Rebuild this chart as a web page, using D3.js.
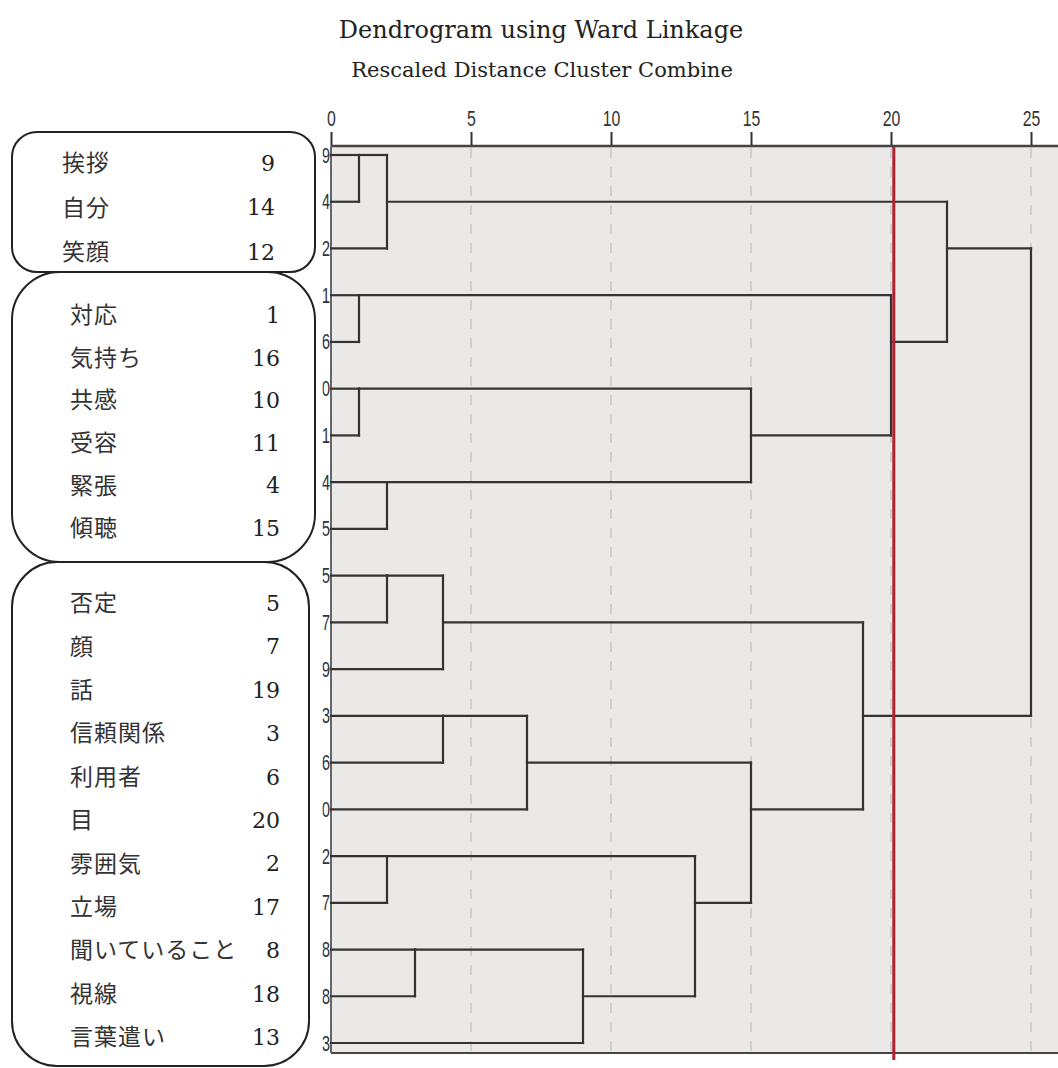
<!DOCTYPE html>
<html>
<head>
<meta charset="utf-8">
<script src="https://cdn.jsdelivr.net/npm/d3@7"></script>
<style>
  body { margin: 0; background: #fff; }
  .title { font-family: "DejaVu Serif", serif; fill: #222; }
  .tick text { font-family: "Liberation Sans", Arial, sans-serif; fill: #333; }
  .leaf { font-family: "Liberation Sans", Arial, sans-serif; fill: #333; }
  .word { font-family: "Noto Sans CJK JP", sans-serif; fill: #333; }
  .num { font-family: "DejaVu Serif", serif; fill: #222; }
</style>
</head>
<body>
<svg id="dendro"></svg>
<script>
// words in the order they appear down the dendrogram
var words = ["挨拶","自分","笑顔","対応","気持ち","共感","受容","緊張","傾聴",
             "否定","顔","話","信頼関係","利用者","目","雰囲気","立場",
             "聞いていること","視線","言葉遣い"];
// case numbers of the leaves (same order)
var caseNumbers = [9,14,12,1,16,10,11,4,15,5,7,19,3,6,20,2,17,8,18,13];
// how many words sit in each circled group
var groupSizes = [3,6,11];
// merges: [child a, child b, rescaled distance]; ids 0-19 are leaves, merge k makes id 20+k
var merges = [
  [0,1,1],[20,2,2],[3,4,1],[5,6,1],[7,8,2],[23,24,15],[22,25,20],[21,26,22],
  [9,10,2],[28,11,4],[12,13,4],[30,14,7],[15,16,2],[17,18,3],[33,19,9],
  [32,34,13],[31,35,15],[29,36,19],[27,37,25]
];
var axisTicks = [0,5,10,15,20,25];
var cutDistance = 20.1;

var screen = {width:1058, height:1068}
var svg = d3.select("#dendro")
    .attr("width", screen.width)
    .attr("height", screen.height)

var plot = {left:331, right:1058, top:146, bottom:1053}

var xScale = d3.scaleLinear()
    .domain([0,25])
    .range([331,1031])

var yScale = d3.scaleLinear()
    .domain([0,19])
    .range([155,1043])

//titles
svg.append("text")
   .attr("class","title")
   .attr("x",541).attr("y",38)
   .attr("text-anchor","middle")
   .style("font-size","24px")
   .text("Dendrogram using Ward Linkage")

svg.append("text")
   .attr("class","title")
   .attr("x",542).attr("y",77)
   .attr("text-anchor","middle")
   .style("font-size","21px")
   .text("Rescaled Distance Cluster Combine")

//plot background
svg.append("rect")
   .attr("x",plot.left).attr("y",plot.top)
   .attr("width",plot.right-plot.left)
   .attr("height",plot.bottom-plot.top)
   .attr("fill","#ebe9e7")

//dashed grid
svg.append("g")
   .selectAll("line")
   .data(axisTicks.slice(1))
   .enter()
   .append("line")
   .attr("x1",function(d){return xScale(d)})
   .attr("x2",function(d){return xScale(d)})
   .attr("y1",plot.top+2)
   .attr("y2",plot.bottom)
   .attr("stroke","#c8c8c8")
   .attr("stroke-width",1.5)
   .attr("stroke-dasharray","10,9")

//axis on top
var xAxis = d3.axisTop(xScale)
    .tickValues(axisTicks)
    .tickSize(14)
    .tickSizeOuter(0)
    .tickPadding(6)
var axisG = svg.append("g")
   .attr("transform","translate(0,"+plot.top+")")
   .call(xAxis)
axisG.select(".domain").remove()
axisG.selectAll(".tick line").attr("stroke","#333").attr("stroke-width",2)
axisG.selectAll(".tick text")
     .style("font-size","22px")
     .attr("transform","scale(0.72,1)")

svg.append("line")
   .attr("x1",plot.left).attr("x2",plot.right)
   .attr("y1",plot.top).attr("y2",plot.top)
   .attr("stroke","#444").attr("stroke-width",2.5)
svg.append("line")
   .attr("x1",plot.left).attr("x2",plot.right)
   .attr("y1",plot.bottom).attr("y2",plot.bottom)
   .attr("stroke","#444").attr("stroke-width",2)
svg.append("line")
   .attr("x1",plot.left).attr("x2",plot.left)
   .attr("y1",plot.top).attr("y2",plot.bottom)
   .attr("stroke","#666").attr("stroke-width",2)

//work out where every node sits
var nodePos = caseNumbers.map(function(d,i){return i})
var nodeDist = caseNumbers.map(function(){return 0})
var segments = []
merges.forEach(function(m,k)
{
    var a = m[0], b = m[1], d = m[2]
    segments.push({x1:nodeDist[a], x2:d, y1:nodePos[a], y2:nodePos[a]})
    segments.push({x1:nodeDist[b], x2:d, y1:nodePos[b], y2:nodePos[b]})
    segments.push({x1:d, x2:d, y1:nodePos[a], y2:nodePos[b]})
    nodePos.push(Math.floor((nodePos[a]+nodePos[b])/2))
    nodeDist.push(d)
})

svg.append("g")
   .selectAll("line")
   .data(segments)
   .enter()
   .append("line")
   .attr("x1",function(s){return xScale(s.x1)})
   .attr("x2",function(s){return xScale(s.x2)})
   .attr("y1",function(s){return yScale(s.y1)})
   .attr("y2",function(s){return yScale(s.y2)})
   .attr("stroke","#333")
   .attr("stroke-width",2.2)
   .attr("stroke-linecap","square")

//cut line
svg.append("line")
   .attr("x1",xScale(cutDistance)).attr("x2",xScale(cutDistance))
   .attr("y1",plot.top+1).attr("y2",1060)
   .attr("stroke","#b3202e")
   .attr("stroke-width",3)

//leaf labels, clipped like the original
svg.append("clipPath").attr("id","leafclip")
   .append("rect")
   .attr("x",322.5).attr("y",plot.top).attr("width",9).attr("height",plot.bottom-plot.top+10)
svg.append("g")
   .attr("clip-path","url(#leafclip)")
   .selectAll("text")
   .data(caseNumbers)
   .enter()
   .append("text")
   .attr("class","leaf")
   .attr("transform",function(d,i){return "translate(330,"+(yScale(i)+7.5)+") scale(0.68,1)"})
   .attr("text-anchor","end")
   .style("font-size","22px")
   .text(function(d){return d})

//circled groups on the left
var groupBoxes = [
  {x:12,y:132,w:303,h:140,r:25,y0:163,y1:252,nameX:62,numX:275},
  {x:12,y:272,w:303,h:290,r:48,y0:315,y1:528,nameX:70,numX:280},
  {x:12,y:562,w:297,h:504,r:45,y0:603,y1:1037,nameX:70,numX:280}
]
var start = 0
groupSizes.forEach(function(n,g)
{
    var box = groupBoxes[g]
    svg.append("rect")
       .attr("x",box.x).attr("y",box.y)
       .attr("width",box.w).attr("height",box.h)
       .attr("rx",box.r).attr("ry",box.r)
       .attr("fill","none")
       .attr("stroke","#222")
       .attr("stroke-width",2)
    var rowY = d3.scaleLinear().domain([0,n-1]).range([box.y0,box.y1])
    var idx = d3.range(start,start+n)
    var grp = svg.append("g")
    grp.selectAll(".word")
       .data(idx)
       .enter()
       .append("text")
       .attr("class","word")
       .attr("x",box.nameX)
       .attr("y",function(d,i){return rowY(i)})
       .attr("dy","0.36em")
       .style("font-size","23px")
       .style("letter-spacing","1px")
       .text(function(d){return words[d]})
    grp.selectAll(".num")
       .data(idx)
       .enter()
       .append("text")
       .attr("class","num")
       .attr("x",box.numX)
       .attr("y",function(d,i){return rowY(i)})
       .attr("dy","0.36em")
       .attr("text-anchor","end")
       .style("font-size","22px")
       .text(function(d){return caseNumbers[d]})
    start += n
})
</script>
</body>
</html>
